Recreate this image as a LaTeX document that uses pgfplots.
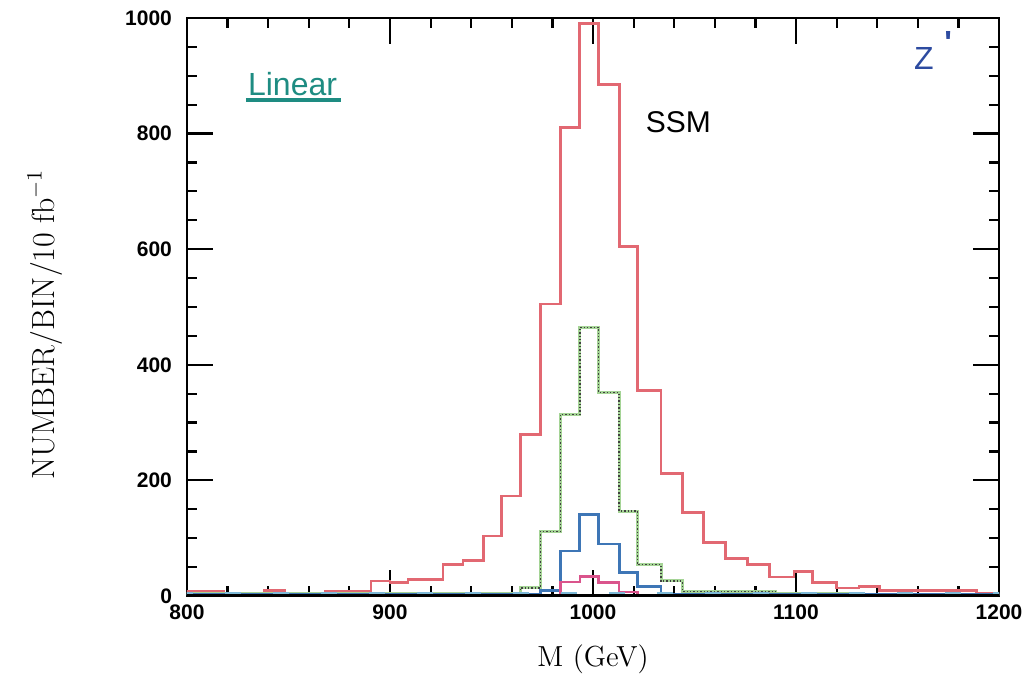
\documentclass[border=0pt]{standalone}
\usepackage{fontspec}
\usepackage{pgfplots}
\usepackage{pgfplotstable}
\pgfplotsset{compat=1.18}
\newfontfamily\tickfont{Liberation Sans}
\newfontfamily\handfont{Liberation Sans}
\definecolor{histred}{RGB}{226,104,114}
\definecolor{histgreen}{RGB}{165,212,150}
\definecolor{histblue}{RGB}{62,118,182}
\definecolor{histmag}{RGB}{218,84,140}
\definecolor{tealink}{RGB}{30,140,130}
\definecolor{blueink}{RGB}{45,75,160}
\definecolor{cyanish}{RGB}{125,185,215}

% red (SSM total): left bin edge, count
\pgfplotstableread{
x y
795 8
818 4
838 10
848 4
868 8
890.6 26
900 23
908.8 29
926.1 55
936 61
946 104
955 173
964.2 280
974.1 505
984 810
993.5 990
1002.8 885
1012.9 605
1022 355
1033.5 212
1044 144
1054.6 92
1065.4 65
1076 54
1086.8 33
1099 42
1108.2 23
1119.8 14
1131 17
1141 10
1189 4
1205 4
}\redtab

\pgfplotstableread{
x y
795 4
964.2 14
974.1 112
984 314
993.5 465
1002.8 352
1012.9 147
1022 54
1033.5 26
1044 8
1090 4
1130 2
1205 2
}\greentab

\pgfplotstableread{
x y
795 3
964.2 3
974.1 9
984 78
993.5 141
1002.8 90
1012.9 41
1022 16
1033.5 3
1205 3
}\bluetab

\pgfplotstableread{
x y
964.2 2
974.1 2
984 24
993.5 34
1002.8 23
1012.9 7
1022 2
1040 2
}\magtab

\pgfplotstableread{
x y
795 4
1205 4
}\cyantab

\pgfplotstableread{
x y
795 2
840 1
880 2
920 1
960 2
1000 1
1040 2
1080 1
1120 2
1160 1
1205 1
}\blacktab

\begin{document}
\begin{tikzpicture}
\useasboundingbox (-93.5pt,-41.5pt) rectangle (420pt,298pt);
\begin{axis}[
  at={(0pt,0pt)}, anchor=south west,
  scale only axis, width=406pt, height=289pt,
  xmin=800, xmax=1200, ymin=0, ymax=1000,
  xtick={800,900,1000,1100,1200}, ytick={0,200,400,600,800,1000},
  minor x tick num=4, minor y tick num=3,
  tick align=inside,
  major tick length=13pt, minor tick length=5pt,
  tick style={black, line width=1.1pt},
  axis line style={line width=1.4pt},
  /pgf/number format/assume math mode=true,
  /pgf/number format/1000 sep={},
  ticklabel style={font={\tickfont\bfseries\fontsize{10.5}{12}\selectfont}},
  y tick label style={xshift=-4pt},
  x tick label style={yshift=-1pt},
  xlabel={M (GeV)},
  xlabel style={font={\fontsize{14.5}{16}\selectfont}, at={(axis description cs:0.5,-0.11)}, anchor=center},
  ylabel={NUMBER/BIN/10 fb$^{-1}$},
  ylabel style={font={\fontsize{16}{18}\selectfont}, at={(axis description cs:-0.175,0.47)}, anchor=center},
]
\addplot[const plot, histred, line width=1.35pt] table[x=x,y=y] {\redtab};
\addplot[const plot, histgreen, line width=1.5pt] table[x=x,y=y] {\greentab};
\addplot[const plot, black!75, line width=0.7pt, densely dotted] table[x=x,y=y] {\greentab};
\addplot[const plot, histblue, line width=1.4pt] table[x=x,y=y] {\bluetab};
\addplot[const plot, histmag, line width=1.3pt] table[x=x,y=y] {\magtab};
\addplot[const plot, cyanish, line width=1.8pt, dash pattern=on 8pt off 16pt] table[x=x,y=y] {\cyantab};
\addplot[const plot, black, line width=1.3pt] table[x=x,y=y] {\blacktab};

\node[text=tealink, font={\handfont\fontsize{16}{18}\selectfont}] at (axis cs:852,886) {Linear};
\draw[tealink, line width=1.6pt] (axis cs:829,858) -- (axis cs:876,858);
\node[text=black, font={\handfont\fontsize{15}{17}\selectfont}] at (axis cs:1042,820) {SSM};
\node[text=blueink, font={\handfont\fontsize{16}{18}\selectfont}] at (axis cs:1163,930) {Z};
\node[text=blueink, font={\handfont\bfseries\fontsize{16}{18}\selectfont}] at (axis cs:1175,958) {'};
\end{axis}
\end{tikzpicture}
\end{document}
